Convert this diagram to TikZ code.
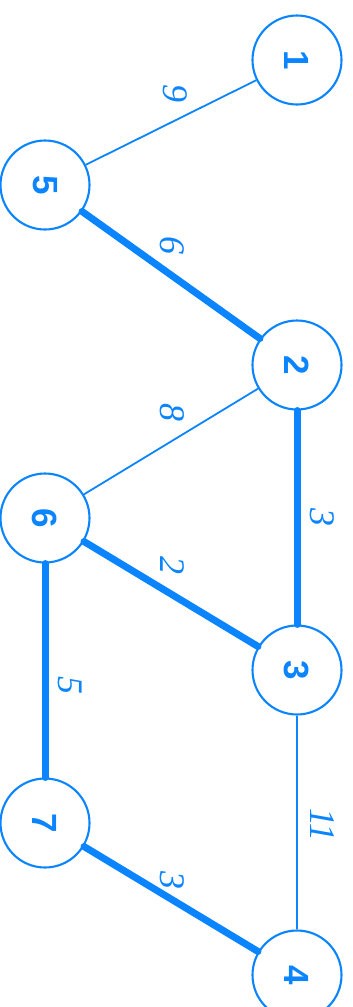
\documentclass[tikz,border=0pt]{standalone}
\usepackage{fontspec}
\setmainfont{Liberation Serif}
\setsansfont{Liberation Sans}
\definecolor{graphblue}{RGB}{10,132,255}
\begin{document}
\begin{tikzpicture}[x=1pt,y=-1pt,
  vertex/.style={circle,draw=graphblue,line width=2.1pt,minimum size=89pt,inner sep=0pt,
    fill=white,text=graphblue,font=\sffamily\bfseries\fontsize{35}{35}\selectfont,rotate=-90},
  plain/.style={draw=graphblue,line width=1.8pt},
  chosen/.style={draw=graphblue,line width=7pt,line cap=round},
  weight/.style={text=graphblue,font=\itshape\fontsize{36}{36}\selectfont,rotate=-90,inner sep=0pt}]
\useasboundingbox (0,0) rectangle (353,1007);
% vertices
\node[vertex] (n1) at (297,60) {1};
\node[vertex] (n5) at (45,185) {5};
\node[vertex] (n2) at (297,365) {2};
\node[vertex] (n6) at (45,518) {6};
\node[vertex] (n3) at (297,670) {3};
\node[vertex] (n7) at (45,823) {7};
\node[vertex] (n4) at (297,975) {4};
% edges not in the tree
\draw[plain] (n1) -- (n5);
\draw[plain] (n2) -- (n6);
\draw[plain] (n3) -- (n4);
% spanning tree edges
\draw[chosen] (n5) -- (n2);
\draw[chosen] (n2) -- (n3);
\draw[chosen] (n6) -- (n3);
\draw[chosen] (n6) -- (n7);
\draw[chosen] (n7) -- (n4);
% weights
\node[weight] (w15) at (175,93) {9};
\node[weight] (w52) at (172,245) {6};
\node[weight] (w26) at (172,412) {8};
\node[weight] (w23) at (322,517) {3};
\node[weight] (w63) at (172,565) {2};
\node[weight] (w67) at (70,685) {5};
\node[weight] (w34) at (322,825) {11};
\node[weight] (w74) at (172,880) {3};
\end{tikzpicture}
\end{document}
